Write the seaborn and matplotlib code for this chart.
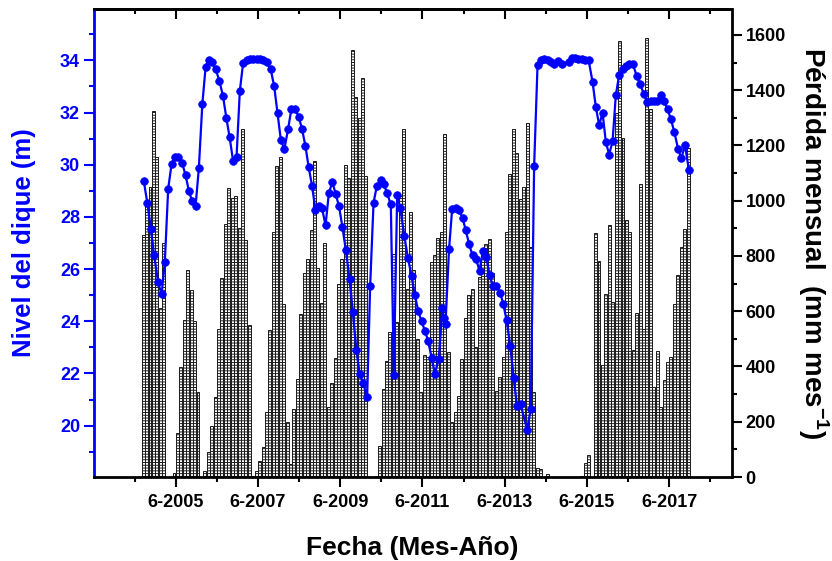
import numpy as np
import pandas as pd
import matplotlib
matplotlib.use("Agg")
import matplotlib.pyplot as plt
import seaborn as sns
from matplotlib.ticker import MultipleLocator, FixedLocator

sns.set_style("ticks")
plt.rcParams['font.family'] = ['Liberation Sans', 'DejaVu Sans']
plt.rcParams['font.weight'] = 'bold'
plt.rcParams['text.color'] = 'black'
plt.rcParams['axes.labelcolor'] = 'black'
plt.rcParams['mathtext.fontset'] = 'custom'
plt.rcParams['mathtext.rm'] = 'Liberation Sans:bold'
plt.rcParams['mathtext.bf'] = 'Liberation Sans:bold'
plt.rcParams['hatch.linewidth'] = 0.7

# Monthly loss (mm per month), one value per month starting August 2004
loss_start = "2004-08"
loss_mm = [
    876, 990, 1050, 1325, 1158, 611, 848, 0, 0,
    16, 160, 398, 567, 751, 676, 564, 307, 0,
    22, 89, 185, 288, 537, 719, 916, 1046, 1010, 1018, 900, 1258, 858, 549,
    5, 22, 58, 107, 234, 531, 888, 1125, 1159, 628, 198, 46,
    246, 355, 589, 737, 788, 895, 1143, 755, 630, 848, 252, 339, 432, 697,
    788, 1128, 1082, 1547, 1376, 1300, 1446, 1091,
    0, 0,
    4, 113, 319, 419, 525, 807, 561, 1016, 1258, 682, 961, 751, 498, 307,
    440, 436, 779, 803,
    864, 888, 1240, 452, 198, 234, 295, 428, 576, 658, 679, 470, 725, 803,
    842, 862, 737, 313, 361, 434, 888, 1098, 1258, 1173, 1007, 1050, 1282,
    834, 307, 34, 28, 0, 10,
    0, 0, 0, 0, 0, 0, 0, 0, 0,
    4, 52, 80, 0,
    885, 783, 404, 662, 913, 634, 1319, 1579, 1228, 931, 888, 461, 594, 1062,
    537, 1589, 1331, 325, 455, 255, 352, 416, 436, 628, 731, 834, 897, 1192,
]

# Dam level readings (decimal year, metres)
level_time = [
    2004.642, 2004.727, 2004.812, 2004.892, 2004.990, 2005.072, 2005.153, 2005.233,
    2005.315, 2005.396, 2005.476, 2005.573, 2005.656, 2005.736, 2005.816, 2005.899,
    2005.979, 2006.064, 2006.145, 2006.218, 2006.295, 2006.388, 2006.478, 2006.568,
    2006.648, 2006.728, 2006.813, 2006.896, 2006.976, 2007.056, 2007.139, 2007.219,
    2007.299, 2007.382, 2007.462, 2007.543, 2007.625, 2007.725, 2007.810, 2007.893,
    2007.973, 2008.058, 2008.148, 2008.228, 2008.321, 2008.406, 2008.488, 2008.569,
    2008.649, 2008.732, 2008.812, 2008.892, 2008.975, 2009.060, 2009.140, 2009.225,
    2009.305, 2009.388, 2009.468, 2009.553, 2009.643, 2009.723, 2009.809, 2009.889,
    2009.971, 2010.071, 2010.144, 2010.227, 2010.307, 2010.397, 2010.477, 2010.557,
    2010.647, 2010.720, 2010.801, 2010.876, 2010.976, 2011.061, 2011.151, 2011.231,
    2011.311, 2011.394, 2011.474, 2011.554, 2011.637, 2011.717, 2011.814, 2011.900,
    2011.936, 2011.977, 2012.062, 2012.138, 2012.223, 2012.308, 2012.391, 2012.471,
    2012.551, 2012.634, 2012.721, 2012.804, 2012.884, 2012.964, 2013.047, 2013.127,
    2013.208, 2013.305, 2013.378, 2013.460, 2013.553, 2013.633, 2013.716, 2013.801,
    2013.961, 2014.051, 2014.131, 2014.214, 2014.294, 2014.375, 2014.457, 2014.538,
    2014.618, 2014.715, 2014.798, 2014.975, 2015.041, 2015.121, 2015.201, 2015.284,
    2015.371, 2015.457, 2015.551, 2015.632, 2015.712, 2015.795, 2015.875, 2015.955,
    2016.038, 2016.118, 2016.198, 2016.281, 2016.361, 2016.441, 2016.531, 2016.628,
    2016.709, 2016.799, 2016.879, 2016.961, 2017.042, 2017.122, 2017.212, 2017.292,
    2017.375, 2017.455, 2017.540, 2017.630, 2017.710, 2017.800, 2017.893,
]
level_m = [
    29.36, 28.53, 27.55, 26.53, 25.49, 25.03, 26.28, 29.07,
    30.01, 30.29, 30.31, 30.07, 29.60, 29.00, 28.61, 28.40,
    29.87, 32.33, 33.76, 34.02, 33.93, 33.66, 33.22, 32.62,
    31.79, 31.05, 30.13, 30.31, 32.84, 33.90, 34.03, 34.06,
    34.07, 34.06, 34.04, 34.00, 33.93, 33.66, 33.02, 31.98,
    30.95, 30.59, 31.36, 32.12, 32.14, 31.84, 31.37, 30.73,
    29.91, 29.19, 28.27, 28.43, 28.33, 27.68, 28.91, 29.33,
    28.89, 28.40, 27.63, 26.73, 25.62, 24.35, 22.91, 21.98,
    21.65, 21.09, 25.35, 28.55, 29.18, 29.40, 29.26, 28.91,
    28.48, 21.95, 28.85, 28.34, 27.27, 26.44, 25.73, 25.02,
    24.40, 24.00, 23.64, 23.25, 22.61, 21.99, 22.56, 24.50,
    24.13, 23.91, 26.76, 28.30, 28.36, 28.25, 27.96, 27.48,
    26.95, 26.53, 26.37, 25.94, 26.69, 26.48, 25.78, 25.35,
    25.35, 25.10, 24.68, 24.05, 23.04, 21.82, 20.75, 20.81,
    19.85, 20.65, 29.94, 33.82, 34.03, 34.05, 34.03, 33.94,
    33.87, 33.98, 33.85, 33.94, 34.10, 34.09, 34.06, 34.04,
    34.03, 34.00, 33.18, 32.21, 31.52, 31.99, 30.87, 30.39,
    30.90, 32.67, 33.44, 33.67, 33.77, 33.85, 33.86, 33.39,
    33.08, 32.72, 32.42, 32.43, 32.45, 32.43, 32.69, 32.43,
    32.12, 31.76, 31.25, 30.62, 30.24, 30.75, 29.80,
]

# Axis ticks: major every June of odd years, minor every June of even years
major_years = [2005, 2007, 2009, 2011, 2013, 2015, 2017]
minor_years = [2004, 2006, 2008, 2010, 2012, 2014, 2016, 2018]
tick_month = 6

months = pd.period_range(loss_start, periods=len(loss_mm), freq="M")
loss_t = months.year + (months.month - 0.5) / 12.0
major_t = [y + (tick_month - 1) / 12.0 for y in major_years]
minor_t = [y + (tick_month - 1) / 12.0 for y in minor_years]
major_lbl = [f"{tick_month}-{y}" for y in major_years]

BLUE = "#0000ff"
fig = plt.figure(figsize=(8.32, 5.61), dpi=100)
ax = fig.add_axes([94 / 832, (561 - 477) / 561, (731.5 - 94) / 832, (477 - 9) / 561])
axr = ax.twinx()

# hatched monthly-loss bars on the right axis
axr.bar(loss_t, loss_mm, width=0.072, color="white", edgecolor="#1a1a1a",
        linewidth=0.7, hatch="------")

# dam level on the left axis, drawn above the bars
sns.lineplot(x=level_time, y=level_m, ax=ax, color=BLUE, marker="o",
             markersize=5.5, markeredgecolor=BLUE, markeredgewidth=0.5,
             linewidth=1.6, sort=False)
ax.set_zorder(axr.get_zorder() + 1)
ax.patch.set_visible(False)

ax.set_xlim(2003.43, 2018.93)
ax.set_ylim(18.03, 35.97)
axr.set_ylim(0, 1694)

# spines
for s in ["left", "right", "top", "bottom"]:
    ax.spines[s].set_linewidth(2)
    axr.spines[s].set_linewidth(2)
ax.spines["left"].set_color(BLUE)
ax.spines["right"].set_visible(False)
axr.spines["left"].set_visible(False)
axr.spines["top"].set_visible(False)
axr.spines["bottom"].set_visible(False)
axr.spines["right"].set_color("black")
ax.spines["top"].set_color("black")
ax.spines["bottom"].set_color("black")

# left axis
ax.yaxis.set_major_locator(MultipleLocator(2))
ax.yaxis.set_minor_locator(MultipleLocator(1))
ax.tick_params(axis="y", which="both", colors=BLUE, direction="out", width=1.5,
               labelsize=13, pad=3)
ax.tick_params(axis="y", which="major", length=7)
ax.tick_params(axis="y", which="minor", length=3.5)
for lab in ax.get_yticklabels():
    lab.set_fontweight("bold")

# bottom axis
ax.xaxis.set_major_locator(FixedLocator(major_t))
ax.xaxis.set_minor_locator(FixedLocator(minor_t))
ax.set_xticklabels(major_lbl, fontweight="bold")
ax.tick_params(axis="x", which="both", colors="black", direction="out", width=1.5,
               labelsize=13, pad=5)
ax.tick_params(axis="x", which="major", length=7)
ax.tick_params(axis="x", which="minor", length=3.5)

# top axis: inward ticks, no labels
top = ax.secondary_xaxis("top")
top.xaxis.set_major_locator(FixedLocator(major_t))
top.xaxis.set_minor_locator(FixedLocator(minor_t))
top.tick_params(axis="x", which="both", direction="in", width=1.5, labeltop=False,
                colors="black")
top.tick_params(axis="x", which="major", length=7)
top.tick_params(axis="x", which="minor", length=3.5)
top.spines["top"].set_linewidth(2)
top.spines["top"].set_color("black")

# right axis
axr.yaxis.set_major_locator(MultipleLocator(200))
axr.yaxis.set_minor_locator(MultipleLocator(100))
axr.tick_params(axis="y", which="both", colors="black", direction="out", width=1.5,
                labelsize=13, pad=3)
axr.tick_params(axis="y", which="major", length=7)
axr.tick_params(axis="y", which="minor", length=3.5)
for lab in axr.get_yticklabels():
    lab.set_fontweight("bold")

ax.set_ylabel("Nivel del dique (m)", color=BLUE, fontsize=18.5,
              fontweight="bold", labelpad=17)
axr.set_ylabel(r"Pérdida mensual  (mm mes$^{\mathbf{-1}}$)", fontsize=20,
               fontweight="bold", rotation=270, labelpad=32, color="black")
ax.set_xlabel("Fecha (Mes-Año)", fontsize=19, fontweight="bold", labelpad=18,
              color="black")

fig.savefig("out.png", dpi=100)
